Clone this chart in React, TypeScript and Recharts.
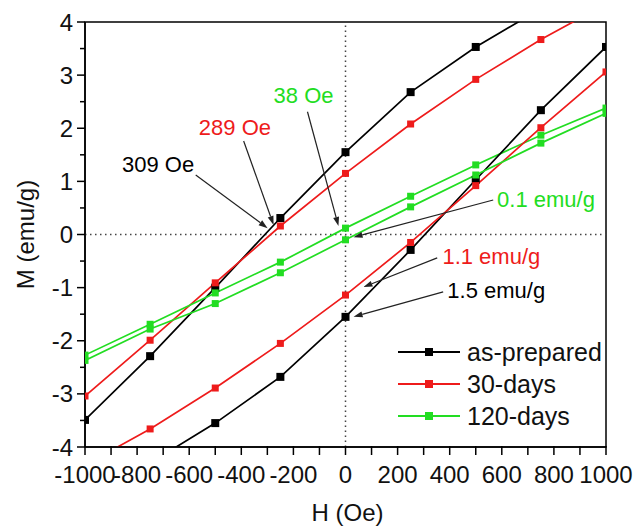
import React from 'react'
import { LineChart, Line, XAxis, YAxis, ReferenceLine, ReferenceArea, ReferenceDot } from 'recharts'

// applied field (Oe) for every measured point
const fieldOe = [-1000, -750, -500, -250, 0, 250, 500, 750, 1000]

// magnetisation (emu/g), descending branch and ascending branch, same order as fieldOe
const asPreparedDown = [-3.49, -2.29, -1.0, 0.31, 1.55, 2.68, 3.53, 4.25, 4.9]
const asPreparedUp = [-4.9, -4.3, -3.55, -2.68, -1.55, -0.29, 1.03, 2.34, 3.53]
const days30Down = [-3.04, -1.99, -0.91, 0.16, 1.15, 2.08, 2.92, 3.67, 4.34]
const days30Up = [-4.34, -3.66, -2.89, -2.05, -1.14, -0.15, 0.92, 2.01, 3.06]
const days120Down = [-2.27, -1.69, -1.1, -0.52, 0.12, 0.72, 1.31, 1.87, 2.38]
const days120Up = [-2.37, -1.78, -1.3, -0.72, -0.1, 0.52, 1.12, 1.72, 2.28]

const xTicks = [-1000, -900, -800, -700, -600, -500, -400, -300, -200, -100, 0, 100, 200, 300, 400, 500, 600, 700, 800, 900, 1000]
const yTicks = [-4, -3.5, -3, -2.5, -2, -1.5, -1, -0.5, 0, 0.5, 1, 1.5, 2, 2.5, 3, 3.5, 4]

const seriesNames = ['as-prepared', '30-days', '120-days']
const seriesColors = ['#000000', '#ee1b1b', '#22dd22']

const FONT = '"Liberation Sans", Arial, sans-serif'

const toPoints = (values: number[]) => fieldOe.map((h, i) => ({ h, m: values[i] }))

const loops = [
  { name: seriesNames[0], color: seriesColors[0], down: asPreparedDown, up: asPreparedUp, size: 8 },
  { name: seriesNames[1], color: seriesColors[1], down: days30Down, up: days30Up, size: 7 },
  { name: seriesNames[2], color: seriesColors[2], down: days120Down, up: days120Up, size: 7 },
]

// annotation text + arrow, in data units
const notes = [
  { text: '309 Oe', color: seriesColors[0], at: [-858, 1.33], from: [-575, 1.12], to: [-299, 0.12] },
  { text: '289 Oe', color: seriesColors[1], at: [-563, 2.02], from: [-391, 1.76], to: [-276, 0.18] },
  { text: '38 Oe', color: seriesColors[2], at: [-276, 2.63], from: [-146, 2.31], to: [-27, 0.16] },
  { text: '0.1 emu/g', color: seriesColors[2], at: [582, 0.67], from: [567, 0.65], to: [31, -0.05] },
  { text: '1.1 emu/g', color: seriesColors[1], at: [372, -0.4], from: [352, -0.44], to: [69, -0.99] },
  { text: '1.5 emu/g', color: seriesColors[0], at: [391, -1.04], from: [375, -1.08], to: [31, -1.55] },
]

const squareDot = (color: string, size: number) => (p: any) => {
  const { cx, cy, payload, index } = p
  if (payload.m > 4 || payload.m < -4) return <g key={index} />
  return <rect key={index} x={cx - size / 2} y={cy - size / 2} width={size} height={size} fill={color} />
}

const XTick = ({ x, y, payload }: any) => {
  const major = payload.value % 200 === 0
  return (
    <g>
      <line x1={x} y1={y - 1} x2={x} y2={y + 8} stroke="#000" strokeWidth={1.5} />
      {major && (
        <text x={x} y={y + 36} textAnchor="middle" fontSize={24} fontFamily={FONT} fill="#111">
          {payload.value}
        </text>
      )}
    </g>
  )
}

const YTick = ({ x, y, payload }: any) => {
  const major = Number.isInteger(payload.value)
  return (
    <g>
      <line x1={x} y1={y} x2={x - (major ? 8 : 5)} y2={y} stroke="#000" strokeWidth={1.5} />
      {major && (
        <text x={x - 12} y={y + 8.5} textAnchor="end" fontSize={24} fontFamily={FONT} fill="#111">
          {payload.value}
        </text>
      )}
    </g>
  )
}

const arrowShape = (p: any) => {
  const { x1, y1, x2, y2 } = p
  const a = Math.atan2(y2 - y1, x2 - x1)
  const len = 9
  const w = 3
  const bx = x2 - len * Math.cos(a)
  const by = y2 - len * Math.sin(a)
  const pts = `${x2},${y2} ${bx - w * Math.sin(a)},${by + w * Math.cos(a)} ${bx + w * Math.sin(a)},${by - w * Math.cos(a)}`
  return (
    <g>
      <line x1={x1} y1={y1} x2={bx} y2={by} stroke="#222" strokeWidth={1.2} />
      <polygon points={pts} fill="#222" />
    </g>
  )
}

const LegendBox = () => (
  <div style={{ position: 'absolute', left: 398, top: 336, fontFamily: FONT }}>
    {loops.map((s) => (
      <div key={s.name} style={{ display: 'flex', alignItems: 'center', height: 32 }}>
        <svg width={62} height={12}>
          <line x1={0} y1={6} x2={62} y2={6} stroke={s.color} strokeWidth={2} />
          <rect x={27} y={2} width={8} height={8} fill={s.color} />
        </svg>
        <span style={{ marginLeft: 7, fontSize: 25, color: '#111', lineHeight: '28px' }}>{s.name}</span>
      </div>
    ))}
  </div>
)

export default function App() {
  return (
    <div style={{ position: 'absolute', left: 0, top: 0, width: 636, height: 532, background: '#fff' }}>
      <LineChart width={636} height={532} margin={{ top: 22, right: 30, bottom: 25, left: 25 }}>
        <XAxis
          type="number"
          dataKey="h"
          domain={[-1000, 1000]}
          ticks={xTicks}
          interval={0}
          allowDataOverflow
          height={60}
          tickSize={0}
          tickMargin={0}
          tickLine={false}
          tick={<XTick />}
          axisLine={{ stroke: '#000', strokeWidth: 1.5 }}
          label={{
            content: ({ viewBox }: any) => (
              <text x={viewBox.x + viewBox.width / 2 + 2} y={viewBox.y + 74} textAnchor="middle" fontSize={24} fontFamily={FONT} fill="#111">
                H (Oe)
              </text>
            ),
          }}
        />
        <YAxis
          type="number"
          domain={[-4, 4]}
          ticks={yTicks}
          interval={0}
          allowDataOverflow
          width={60}
          tickSize={0}
          tickMargin={0}
          tickLine={false}
          tick={<YTick />}
          axisLine={{ stroke: '#000', strokeWidth: 1.5 }}
          label={{
            content: ({ viewBox }: any) => {
              const cx = 25
              const cy = viewBox.y + viewBox.height / 2
              return (
                <text x={cx} y={cy} transform={`rotate(-90 ${cx} ${cy})`} textAnchor="middle" dominantBaseline="central" fontSize={24} fontFamily={FONT} fill="#111">
                  M (emu/g)
                </text>
              )
            },
          }}
        />
        <ReferenceArea x1={-1000} x2={1000} y1={-4} y2={4} fill="none" stroke="#000" strokeWidth={1.5} fillOpacity={0} />
        <ReferenceLine x={0} stroke="#444" strokeWidth={1.5} strokeDasharray="1.5 3.5" />
        <ReferenceLine y={0} stroke="#444" strokeWidth={1.5} strokeDasharray="1.5 3.5" />
        {loops.map((s) => (
          <Line
            key={s.name + '-down'}
            data={toPoints(s.down)}
            dataKey="m"
            type="linear"
            stroke={s.color}
            strokeWidth={1.7}
            dot={squareDot(s.color, s.size)}
            activeDot={false}
            isAnimationActive={false}
            legendType="none"
          />
        ))}
        {loops.map((s) => (
          <Line
            key={s.name + '-up'}
            data={toPoints(s.up)}
            dataKey="m"
            type="linear"
            stroke={s.color}
            strokeWidth={1.7}
            dot={squareDot(s.color, s.size)}
            activeDot={false}
            isAnimationActive={false}
            legendType="none"
          />
        ))}
        {notes.map((n) => (
          <ReferenceLine
            key={n.text + '-arrow'}
            segment={[{ x: n.from[0], y: n.from[1] }, { x: n.to[0], y: n.to[1] }]}
            shape={arrowShape}
          />
        ))}
        {notes.map((n) => (
          <ReferenceDot
            key={n.text}
            x={n.at[0]}
            y={n.at[1]}
            r={0}
            shape={(p: any) => (
              <text x={p.cx} y={p.cy + 8} fontSize={22} fontFamily={FONT} fill={n.color}>
                {n.text}
              </text>
            )}
          />
        ))}
      </LineChart>
      <LegendBox />
    </div>
  )
}
